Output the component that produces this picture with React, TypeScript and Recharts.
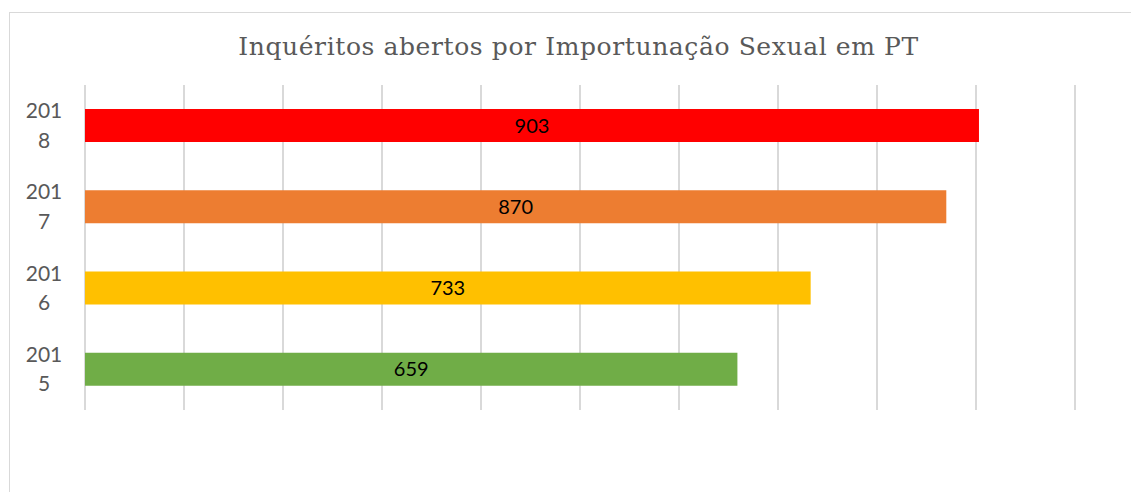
import React from "react";
import { BarChart, Bar, XAxis, YAxis, CartesianGrid, LabelList, Cell } from "recharts";

const years = ["2018", "2017", "2016", "2015"];
const values = [903, 870, 733, 659];
const colors = ["#FF0000", "#ED7D31", "#FFC000", "#70AD47"];
const xTicks = [0, 100, 200, 300, 400, 500, 600, 700, 800, 900, 1000];
const title = "Inquéritos abertos por Importunação Sexual em PT";

const data = years.map((y, i) => ({ year: y, value: values[i] }));

const YTick = (props: any) => {
  const { y, payload } = props;
  const s = String(payload.value);
  return (
    <g>
      <text x={44} y={y - 16} textAnchor="middle" dominantBaseline="central" fill="#595959" fontSize={21} fontFamily="Lato, 'Noto Sans', sans-serif">
        {s.slice(0, 3)}
      </text>
      <text x={44} y={y + 13.5} textAnchor="middle" dominantBaseline="central" fill="#595959" fontSize={21} fontFamily="Lato, 'Noto Sans', sans-serif">
        {s.slice(3)}
      </text>
    </g>
  );
};

const EmptyTick = () => <g />;

export default function App() {
  return (
    <div style={{ position: "absolute", left: 0, top: 0, width: 1131, height: 492, background: "#fff", overflow: "hidden" }}>
      <div style={{ position: "absolute", left: 9, top: 12, width: 1200, height: 600, borderLeft: "1px solid #d9d9d9", borderTop: "1px solid #d9d9d9" }} />
      <div style={{ position: "absolute", left: 0, top: 32, width: 1157, textAlign: "center", fontFamily: "'DejaVu Serif', serif", fontSize: 25, letterSpacing: 0.6, lineHeight: "30px", color: "#595959", whiteSpace: "nowrap" }}>
        {title}
      </div>
      <BarChart
        width={1131}
        height={492}
        data={data}
        layout="vertical"
        margin={{ top: 85, right: 56, bottom: 82, left: 0 }}
        barSize={33}
        style={{ position: "absolute", left: 0, top: 0 }}
      >
        <CartesianGrid horizontal={false} stroke="#d9d9d9" strokeWidth={2} />
        <XAxis type="number" domain={[0, 1000]} ticks={xTicks} interval={0} axisLine={false} tickLine={false} tick={<EmptyTick />} height={0} />
        <YAxis type="category" dataKey="year" width={85} axisLine={false} tickLine={false} tick={<YTick />} />
        <Bar dataKey="value" isAnimationActive={false}>
          {data.map((d, i) => (
            <Cell key={d.year} fill={colors[i]} />
          ))}
          <LabelList dataKey="value" position="center" fill="#000" fontSize={20} fontFamily="Lato, 'Noto Sans', sans-serif" />
        </Bar>
      </BarChart>
    </div>
  );
}
